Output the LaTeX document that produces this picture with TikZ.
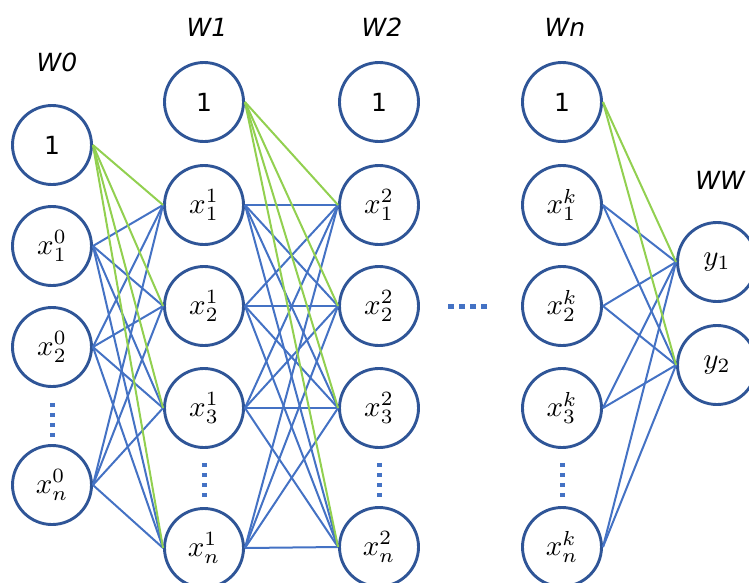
\documentclass[tikz,border=0pt]{standalone}
\usepackage{graphicx}
\usepackage{fontspec}
\setmainfont{DejaVu Sans}
\usetikzlibrary{calc}

\definecolor{ringblue}{HTML}{2F5597}
\definecolor{linkblue}{HTML}{4472C4}
\definecolor{biasgreen}{HTML}{92D050}

% math labels inside the neurons
\newcommand\mx[1]{{\normalsize\scalebox{2.9}{$#1$}}}

\begin{document}
\begin{tikzpicture}[x=1pt,y=-1pt,
  neuron/.style={circle,draw=ringblue,line width=2.9pt,minimum size=79pt,
                 inner sep=0pt,fill=white,font=\fontsize{25}{30}\selectfont},
  link/.style={draw=linkblue,line width=2pt},
  biaslink/.style={draw=biasgreen,line width=2pt},
  vdots/.style={draw=linkblue,line width=5pt,dash pattern=on 4pt off 6pt},
  hdots/.style={draw=linkblue,line width=5pt,dash pattern=on 6pt off 5pt},
  lay/.style={font=\fontsize{25}{30}\selectfont\itshape}]
\useasboundingbox (0,0) rectangle (749,582);

% layer titles
\node[lay] (t0) at (57,62) {W0};
\node[lay] (t1) at (207,27) {W1};
\node[lay] (t2) at (382,27) {W2};
\node[lay] (tn) at (565,27) {Wn};
\node[lay] (tw) at (720,180) {WW};

% input layer
\node[neuron] (b0) at (52,145) {1};
\node[neuron] (i1) at (52,246) {\mx{x^0_1}};
\node[neuron] (i2) at (52,347) {\mx{x^0_2}};
\node[neuron] (in) at (52,485) {\mx{x^0_n}};

% first hidden layer
\node[neuron] (b1) at (204,102) {1};
\node[neuron] (h11) at (204,205) {\mx{x^1_1}};
\node[neuron] (h12) at (204,306) {\mx{x^1_2}};
\node[neuron] (h13) at (204,408) {\mx{x^1_3}};
\node[neuron] (h1n) at (204,548) {\mx{x^1_n}};

% second hidden layer
\node[neuron] (b2) at (379,102) {1};
\node[neuron] (h21) at (379,205) {\mx{x^2_1}};
\node[neuron] (h22) at (379,306) {\mx{x^2_2}};
\node[neuron] (h23) at (379,408) {\mx{x^2_3}};
\node[neuron] (h2n) at (379,547) {\mx{x^2_n}};

% last hidden layer
\node[neuron] (bn) at (562,102) {1};
\node[neuron] (k1) at (562,205) {\mx{x^k_1}};
\node[neuron] (k2) at (562,306) {\mx{x^k_2}};
\node[neuron] (k3) at (562,408) {\mx{x^k_3}};
\node[neuron] (kn) at (562,547) {\mx{x^k_n}};

% output layer
\node[neuron] (y1) at (717,262) {\mx{y_1}};
\node[neuron] (y2) at (717,365) {\mx{y_2}};

% weights: input -> hidden 1
\foreach \s in {i1,i2,in}
  \foreach \t in {h11,h12,h13,h1n}
    \draw[link] (\s.east) -- (\t.west);
\foreach \t in {h11,h12,h13,h1n}
  \draw[biaslink] (b0.east) -- (\t.west);

% weights: hidden 1 -> hidden 2
\foreach \s in {h11,h12,h13,h1n}
  \foreach \t in {h21,h22,h23,h2n}
    \draw[link] (\s.east) -- (\t.west);
\foreach \t in {h21,h22,h23,h2n}
  \draw[biaslink] (b1.east) -- (\t.west);

% weights: hidden k -> output
\foreach \s in {k1,k2,k3,kn}
  \foreach \t in {y1,y2}
    \draw[link] (\s.east) -- (\t.west);
\foreach \t in {y1,y2}
  \draw[biaslink] (bn.east) -- (\t.west);

% ellipses
\draw[vdots] ($(i2.south)+(0,15)$) -- ($(in.north)+(0,-5)$);
\draw[vdots] ($(h13.south)+(0,14)$) -- ($(h1n.north)+(0,-8)$);
\draw[vdots] ($(h23.south)+(0,14)$) -- ($(h2n.north)+(0,-8)$);
\draw[vdots] ($(k3.south)+(0,14)$) -- ($(kn.north)+(0,-8)$);
\coordinate (hd) at (448,306);
\draw[hdots] (hd) -- ++(40,0);
\end{tikzpicture}
\end{document}
